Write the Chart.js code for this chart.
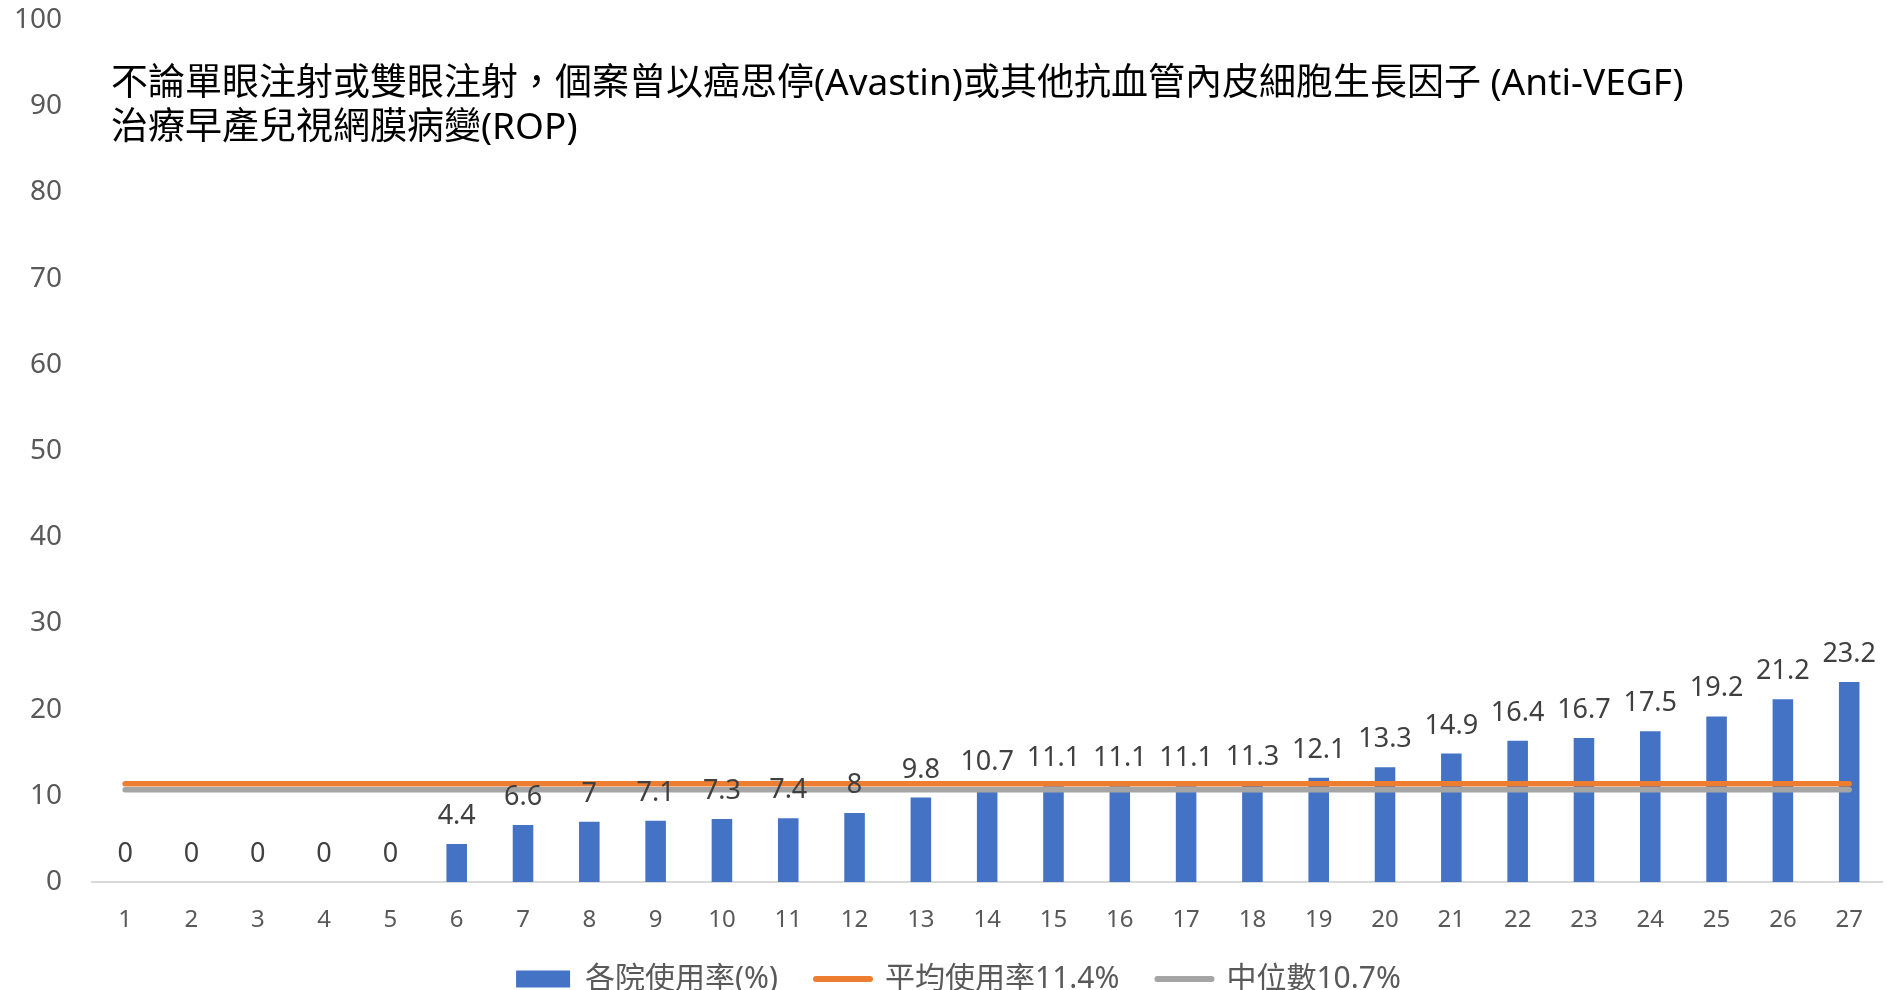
<!DOCTYPE html>
<html lang="zh-Hant">
<head>
<meta charset="utf-8">
<title>早產兒視網膜病變 Anti-VEGF 各院使用率</title>
<script src="https://cdn.jsdelivr.net/npm/chart.js@4.4.1/dist/chart.umd.min.js"></script>
<style>
  html, body { margin: 0; padding: 0; background: #ffffff; }
  #wrap { width: 1887px; height: 990px; position: relative; }
</style>
</head>
<body>
<div id="wrap"><canvas id="chart"></canvas></div>
<script>
// Hospital index on the x axis
const hospitals = ['1', '2', '3', '4', '5', '6', '7', '8', '9', '10', '11', '12', '13', '14',
  '15', '16', '17', '18', '19', '20', '21', '22', '23', '24', '25', '26', '27'];

// Usage rate (%) per hospital
const usageRates = [0, 0, 0, 0, 0, 4.4, 6.6, 7, 7.1, 7.3, 7.4, 8, 9.8, 10.7, 11.1, 11.1, 11.1,
  11.3, 12.1, 13.3, 14.9, 16.4, 16.7, 17.5, 19.2, 21.2, 23.2];

// Reference lines: overall average and median
const averageRates = [11.4, 11.4, 11.4, 11.4, 11.4, 11.4, 11.4, 11.4, 11.4, 11.4, 11.4, 11.4, 11.4, 11.4,
  11.4, 11.4, 11.4, 11.4, 11.4, 11.4, 11.4, 11.4, 11.4, 11.4, 11.4, 11.4, 11.4];
const medianRates = [10.7, 10.7, 10.7, 10.7, 10.7, 10.7, 10.7, 10.7, 10.7, 10.7, 10.7, 10.7, 10.7, 10.7,
  10.7, 10.7, 10.7, 10.7, 10.7, 10.7, 10.7, 10.7, 10.7, 10.7, 10.7, 10.7, 10.7];

// Value axis range
const yMin = 0;
const yMax = 100;
const yStep = 10;

const seriesNames = ['各院使用率(%)', '平均使用率11.4%', '中位數10.7%'];
const titleLines = [
  '不論單眼注射或雙眼注射，個案曾以癌思停(Avastin)或其他抗血管內皮細胞生長因子 (Anti-VEGF)',
  '治療早產兒視網膜病變(ROP)'
];

const FONT = '"Noto Sans", "Noto Sans CJK TC", sans-serif';

// Two-line caption printed inside the plot area, top-left
const captionPlugin = {
  id: 'caption',
  afterDraw(chart) {
    const { ctx, chartArea } = chart;
    ctx.save();
    ctx.font = '37px ' + FONT;
    ctx.fillStyle = '#000000';
    ctx.textAlign = 'left';
    ctx.textBaseline = 'middle';
    titleLines.forEach((line, i) => {
      ctx.fillText(line, chartArea.left + 19, chartArea.top + 64 + i * 44);
    });
    ctx.restore();
  }
};

// Value printed above each bar
const barValuePlugin = {
  id: 'barValues',
  afterDatasetsDraw(chart) {
    const { ctx } = chart;
    const meta = chart.getDatasetMeta(0);
    ctx.save();
    ctx.font = '27px ' + FONT;
    ctx.fillStyle = '#404040';
    ctx.textAlign = 'center';
    ctx.textBaseline = 'alphabetic';
    meta.data.forEach((bar, i) => {
      ctx.fillText(String(usageRates[i]), bar.x, bar.y - 20);
    });
    ctx.restore();
  }
};

// Legend row sits a little right of centre and just under the tick labels
const legendPlacement = {
  id: 'legendPlacement',
  afterLayout(chart) {
    const legend = chart.legend;
    if (!legend) return;
    const shiftX = 17;
    const top = chart.chartArea.bottom + 44;
    legend.left += shiftX;
    legend.right += shiftX;
    legend.top = top;
    legend.bottom = chart.height;
    legend.height = legend.bottom - legend.top;
  }
};

new Chart(document.getElementById('chart'), {
  data: {
    labels: hospitals,
    datasets: [
      {
        type: 'bar',
        label: seriesNames[0],
        data: usageRates,
        backgroundColor: '#4472C4',
        borderWidth: 0,
        barPercentage: 0.31,
        categoryPercentage: 1,
        order: 3
      },
      {
        type: 'line',
        label: seriesNames[1],
        data: averageRates,
        borderColor: '#ED7D31',
        backgroundColor: '#ED7D31',
        borderWidth: 5.5,
        borderCapStyle: 'round',
        pointRadius: 0,
        fill: false,
        order: 1
      },
      {
        type: 'line',
        label: seriesNames[2],
        data: medianRates,
        borderColor: '#A5A5A5',
        backgroundColor: '#A5A5A5',
        borderWidth: 5.5,
        borderCapStyle: 'round',
        pointRadius: 0,
        fill: false,
        order: 2
      }
    ]
  },
  options: {
    responsive: true,
    maintainAspectRatio: false,
    animation: false,
    events: [],
    layout: { padding: { left: 0, right: 4, top: 20, bottom: 0 } },
    scales: {
      x: {
        type: 'category',
        offset: true,
        grid: { display: true, drawOnChartArea: false, drawTicks: false },
        border: { display: true, color: '#D9D9D9', width: 2 },
        ticks: {
          color: '#595959',
          font: { family: FONT, size: 24 },
          padding: 24,
          maxRotation: 0,
          autoSkip: false
        },
        afterFit(scale) { scale.height = 56; }
      },
      y: {
        min: yMin,
        max: yMax,
        grid: { display: false, drawTicks: false },
        border: { display: false },
        ticks: {
          stepSize: yStep,
          color: '#595959',
          font: { family: FONT, size: 28 },
          padding: 30
        },
        afterFit(scale) {
          scale.width = 92;
          scale.paddingTop = 0;
          scale.paddingBottom = 0;
        }
      }
    },
    plugins: {
      tooltip: { enabled: false },
      legend: {
        position: 'bottom',
        align: 'center',
        maxHeight: 52,
        labels: {
          usePointStyle: true,
          pointStyleWidth: 54,
          boxWidth: 54,
          boxHeight: 17,
          padding: 38,
          color: '#595959',
          font: { family: FONT, size: 30 },
          generateLabels(chart) {
            return chart.data.datasets.map((ds, i) => {
              const isLine = ds.type === 'line';
              return {
                text: ds.label,
                datasetIndex: i,
                fillStyle: isLine ? 'transparent' : ds.backgroundColor,
                strokeStyle: isLine ? ds.borderColor : 'transparent',
                lineWidth: isLine ? 6 : 0,
                lineCap: 'round',
                pointStyle: isLine ? 'line' : 'rect',
                fontColor: '#595959',
                hidden: false
              };
            });
          }
        }
      }
    }
  },
  plugins: [captionPlugin, barValuePlugin, legendPlacement]
});
</script>
</body>
</html>
